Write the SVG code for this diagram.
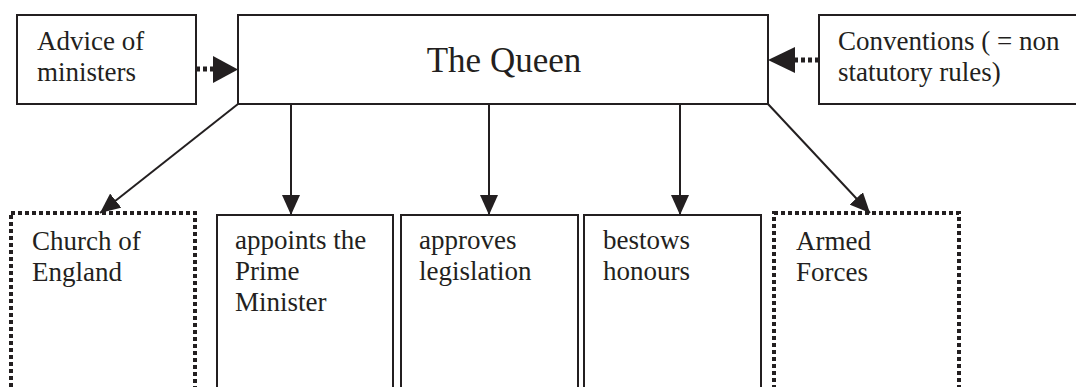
<svg xmlns="http://www.w3.org/2000/svg" width="1076" height="387" viewBox="0 0 1076 387">
<style>
text{font-family:"Liberation Serif","Times New Roman",serif;font-size:27px;fill:#231f20}
.box{fill:#fff;stroke:#231f20;stroke-width:2}
.dot{fill:#fff;stroke:#231f20;stroke-width:4;stroke-dasharray:4 3}
.ln{stroke:#231f20;stroke-width:2;fill:none}
.dl{stroke:#231f20;stroke-width:5;stroke-dasharray:4 3;fill:none}
.ah{fill:#231f20}
</style>
<defs>
<marker id="arr" viewBox="0 0 20 18" refX="20" refY="9" markerWidth="20" markerHeight="18" markerUnits="userSpaceOnUse" orient="auto">
<path d="M0,0 L20,9 L0,18 Z" class="ah"/>
</marker>
</defs>
<g id="advice"><rect class="box" x="17" y="15" width="179" height="89"/><text x="37" y="50">Advice of</text><text x="37" y="81">ministers</text></g>
<g id="queen"><rect class="box" x="238" y="15" width="530" height="89"/><text x="504" y="72" text-anchor="middle" style="font-size:35px">The Queen</text></g>
<g id="conventions"><rect class="box" x="819" y="15" width="270" height="89"/><text x="838" y="50">Conventions ( = non</text><text x="838" y="81">statutory rules)</text></g>
<g id="church"><rect class="dot" x="11" y="213" width="184" height="190"/><text x="32" y="250">Church of</text><text x="32" y="281">England</text></g>
<g id="pm"><rect class="box" x="217" y="215" width="176" height="190"/><text x="235" y="249">appoints the</text><text x="235" y="280">Prime</text><text x="235" y="311">Minister</text></g>
<g id="legislation"><rect class="box" x="401" y="215" width="177" height="190"/><text x="419" y="249">approves</text><text x="419" y="280">legislation</text></g>
<g id="honours"><rect class="box" x="584" y="215" width="177" height="190"/><text x="603" y="249">bestows</text><text x="603" y="280">honours</text></g>
<g id="armed"><rect class="dot" x="774" y="213" width="185" height="190"/><text x="796" y="250">Armed</text><text x="796" y="281">Forces</text></g>
<g id="connectors">
<line class="dl" x1="196" y1="69" x2="214" y2="69"/>
<path class="ah" d="M213,56 L238,69.5 L213,83 Z"/>
<line class="dl" x1="819" y1="60" x2="794" y2="60"/>
<path class="ah" d="M795,47 L768,60 L795,73 Z"/>
<line class="ln" x1="291" y1="104" x2="291" y2="215" marker-end="url(#arr)"/>
<line class="ln" x1="489" y1="104" x2="489" y2="215" marker-end="url(#arr)"/>
<line class="ln" x1="680" y1="104" x2="680" y2="215" marker-end="url(#arr)"/>
<line class="ln" x1="238" y1="104" x2="100" y2="213" marker-end="url(#arr)"/>
<line class="ln" x1="768" y1="104" x2="870" y2="213" marker-end="url(#arr)"/>
</g>
</svg>
